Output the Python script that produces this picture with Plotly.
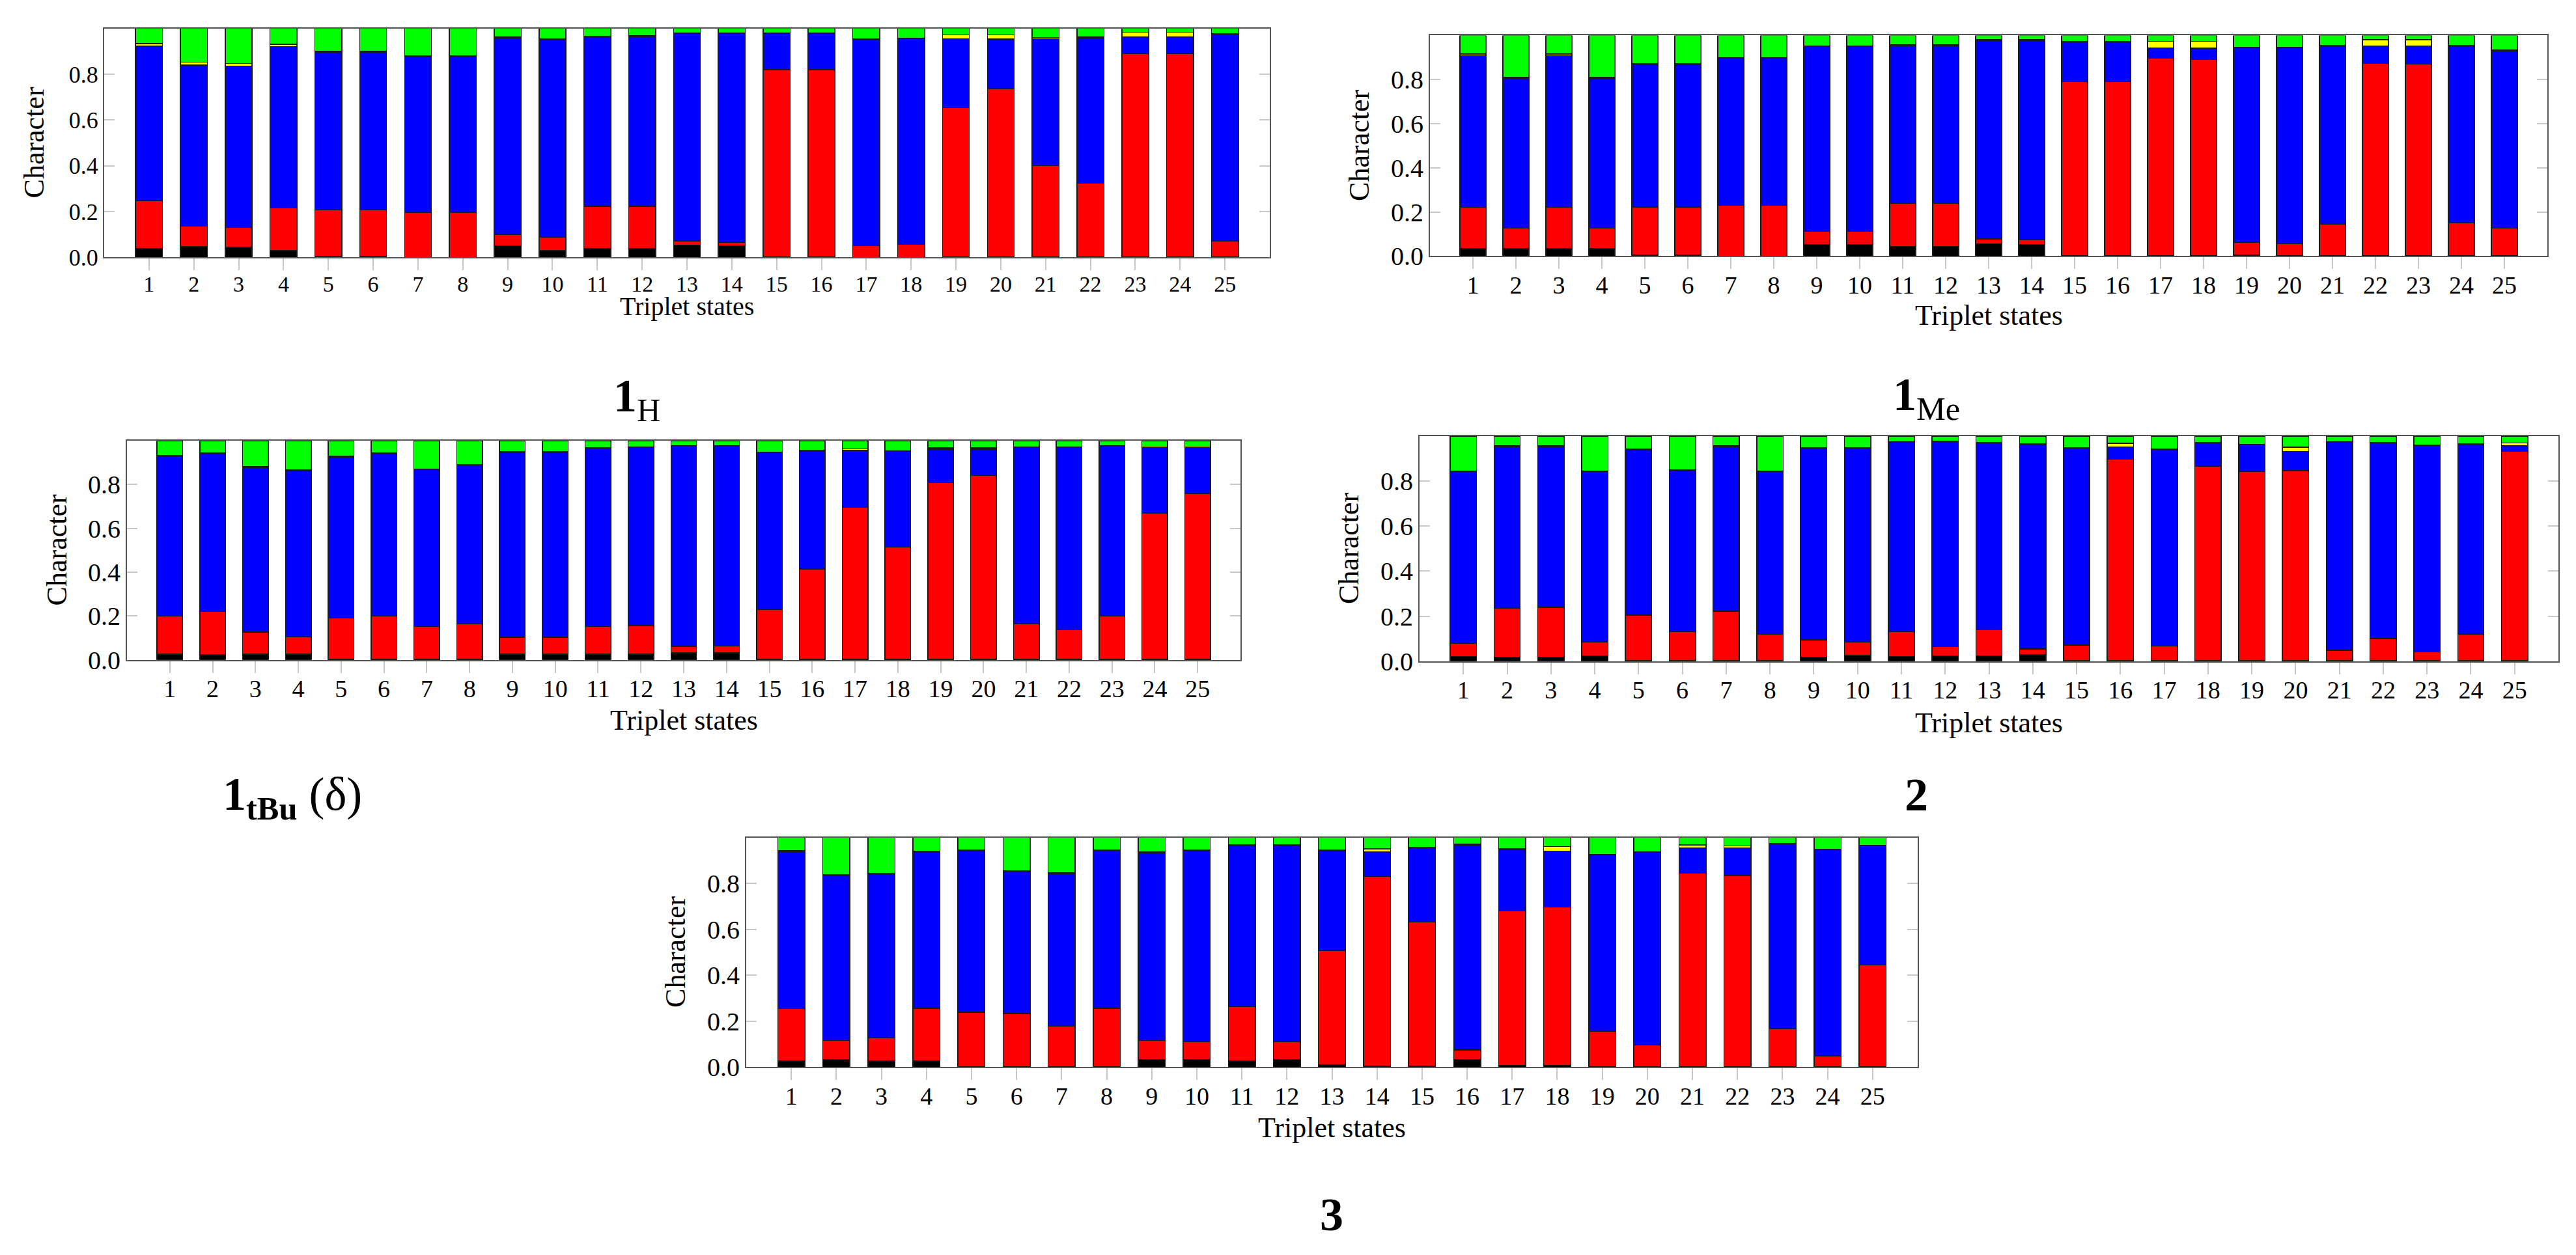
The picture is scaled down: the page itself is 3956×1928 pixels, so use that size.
import plotly.graph_objects as go

W, H = 3956, 1928

states = list(range(1, 26))
y_ticks = [0, 0.2, 0.4, 0.6, 0.8]
y_ticktext = ["0.0", "0.2", "0.4", "0.6", "0.8"]

# ---- 1H ----
black_1h = [.039, .047, .044, .030, .004, .004, .000, .000, .051, .029, .039, .040, .053,
            .051, .002, .002, .000, .000, .003, .002, .003, .002, .002, .002, .003]
red_1h = [.209, .089, .086, .185, .203, .203, .197, .197, .049, .058, .184, .183, .019,
          .016, .818, .818, .050, .056, .650, .734, .398, .322, .888, .888, .069]
blue_1h = [.674, .704, .706, .705, .689, .689, .681, .681, .858, .863, .737, .741, .906,
           .911, .158, .158, .903, .899, .302, .217, .554, .633, .072, .072, .902]
yellow_1h = [.012, .012, .010, .010, .003, .003, .002, .002, .004, .004, .004, .004, .002,
             .002, .002, .002, .002, .002, .017, .019, .005, .005, .021, .021, .002]
green_1h = [.066, .148, .154, .070, .101, .101, .120, .120, .038, .046, .036, .032, .020,
            .020, .020, .020, .045, .043, .028, .028, .040, .038, .017, .017, .024]

# ---- 1Me ----
black_1me = [.034, .034, .034, .034, .004, .004, .000, .000, .053, .053, .044, .044, .055,
             .053, .002, .002, .002, .002, .004, .002, .003, .002, .002, .002, .003]
red_1me = [.187, .092, .187, .092, .219, .219, .230, .230, .059, .059, .194, .194, .022,
           .020, .788, .788, .895, .889, .059, .053, .142, .871, .868, .150, .123]
blue_1me = [.687, .677, .687, .677, .646, .646, .668, .668, .837, .837, .715, .715, .901,
            .905, .181, .181, .047, .051, .881, .889, .806, .080, .083, .799, .804]
yellow_1me = [.007, .007, .007, .007, .003, .003, .002, .002, .004, .004, .004, .004, .002,
              .002, .002, .002, .029, .031, .002, .002, .003, .027, .027, .003, .003]
green_1me = [.085, .190, .085, .190, .128, .128, .100, .100, .047, .047, .043, .043, .020,
             .020, .027, .027, .027, .027, .054, .054, .046, .020, .020, .046, .067]

# ---- 1tBu (delta) ----
black_1tbu = [.027, .024, .027, .027, .002, .002, .002, .002, .027, .027, .027, .027, .032,
              .032, .003, .002, .002, .002, .002, .002, .003, .002, .003, .002, .002]
red_1tbu = [.173, .196, .100, .079, .189, .199, .150, .162, .076, .076, .125, .130, .030,
            .032, .227, .413, .693, .512, .807, .839, .163, .135, .198, .668, .757]
blue_1tbu = [.727, .721, .751, .757, .734, .740, .715, .724, .843, .843, .814, .811, .914,
             .912, .716, .538, .261, .437, .152, .120, .803, .832, .775, .299, .210]
yellow_1tbu = [.004, .004, .004, .004, .003, .003, .003, .003, .004, .004, .003, .003, .002,
               .002, .002, .004, .006, .003, .006, .006, .002, .002, .002, .006, .006]
green_1tbu = [.069, .055, .118, .133, .072, .056, .130, .109, .050, .050, .031, .029, .022,
              .022, .052, .043, .038, .046, .033, .033, .029, .029, .022, .025, .025]

# ---- 2 ----
black_2 = [.021, .019, .019, .024, .002, .003, .003, .002, .019, .026, .021, .024, .024,
           .029, .002, .002, .002, .002, .003, .002, .002, .002, .003, .003, .002]
red_2 = [.058, .217, .220, .062, .203, .129, .219, .117, .076, .060, .111, .040, .116,
         .025, .070, .895, .065, .864, .839, .845, .046, .098, .038, .118, .930]
blue_2 = [.765, .718, .715, .756, .735, .715, .732, .723, .852, .861, .841, .911, .829,
          .910, .875, .055, .874, .103, .119, .085, .925, .871, .918, .843, .024]
yellow_2 = [.002, .003, .003, .003, .002, .002, .002, .002, .003, .003, .002, .002, .002,
            .002, .002, .016, .002, .002, .002, .019, .002, .002, .002, .002, .014]
green_2 = [.154, .043, .043, .155, .058, .151, .044, .156, .050, .050, .025, .023, .029,
           .034, .051, .032, .057, .029, .037, .049, .025, .027, .039, .034, .030]

# ---- 3 ----
black_3 = [.026, .033, .026, .026, .002, .002, .002, .002, .033, .033, .026, .033, .010,
           .003, .003, .033, .008, .008, .002, .002, .002, .002, .002, .002, .002]
red_3 = [.228, .082, .101, .230, .237, .231, .178, .254, .083, .077, .238, .077, .498,
         .827, .629, .042, .672, .689, .155, .094, .842, .833, .166, .047, .443]
blue_3 = [.685, .719, .713, .681, .703, .620, .663, .688, .816, .831, .699, .855, .433,
          .107, .323, .892, .266, .244, .768, .839, .109, .120, .804, .897, .518]
yellow_3 = [.005, .004, .004, .004, .003, .003, .003, .003, .004, .004, .004, .003, .004,
            .014, .003, .003, .004, .019, .002, .002, .014, .008, .002, .002, .002]
green_3 = [.056, .162, .156, .059, .055, .144, .154, .053, .064, .055, .033, .032, .055,
           .049, .042, .030, .050, .040, .073, .063, .033, .037, .026, .052, .035]

panels = [
    ("<b>1</b><sub>H</sub>", [black_1h, red_1h, blue_1h, yellow_1h, green_1h]),
    ("<b>1</b><sub>Me</sub>", [black_1me, red_1me, blue_1me, yellow_1me, green_1me]),
    ("<b>1</b><sub><b>tBu</b></sub> (δ)", [black_1tbu, red_1tbu, blue_1tbu, yellow_1tbu, green_1tbu]),
    ("<b>2</b>", [black_2, red_2, blue_2, yellow_2, green_2]),
    ("<b>3</b>", [black_3, red_3, blue_3, yellow_3, green_3]),
]
seg_colors = ["#000000", "#ff0000", "#0000ff", "#ffff00", "#00ff00"]

# plot boxes in pixels: left, right, top, bottom
boxes = [(152, 1942, 36, 392), (2188, 3904, 47, 390), (187, 1897, 677, 1018),
         (2172, 3921, 670, 1020), (1138, 2937, 1294, 1651)]
# label centres (x px, y px)
label_pos = [(970, 612), (2950, 610), (441, 1232), (2935, 1228), (2037, 1880)]
tick_size = [34, 38, 38, 38, 38]
xtitle_gap = [76, 92, 94, 96, 94]

FONT = "Liberation Serif"


def px(x):
    return x / W


def py(y):
    return 1 - y / H


fig = go.Figure()
layout = dict(width=W, height=H, margin=dict(l=0, r=0, t=0, b=0), autosize=False,
              paper_bgcolor="white", plot_bgcolor="white", barmode="stack",
              showlegend=False, font=dict(family=FONT, color="black"))
annotations = []

for i, (label, segs) in enumerate(panels):
    n = "" if i == 0 else str(i + 1)
    left, right, top, bottom = boxes[i]
    for vals, c in zip(segs, seg_colors):
        fig.add_trace(go.Bar(x=states, y=vals, width=0.6, xaxis="x" + n, yaxis="y" + n,
                             marker=dict(color=c, line=dict(color="#1a1a1a", width=1.5))))
    layout["xaxis" + n] = dict(
        domain=[px(left), px(right)], anchor="y" + n, range=[0, 26],
        tickvals=states, ticktext=[str(s) for s in states],
        ticks="outside", ticklen=18, tickwidth=2, tickcolor="#c8c8c8",
        ticklabelstandoff=-8,
        showline=True, linecolor="#555", linewidth=2, mirror=True,
        showgrid=False, zeroline=False,
        tickfont=dict(family=FONT, size=tick_size[i], color="black"))
    layout["yaxis" + n] = dict(
        domain=[py(bottom), py(top)], anchor="x" + n, range=[0, 1],
        tickvals=y_ticks, ticktext=y_ticktext,
        ticks="inside", ticklen=16, tickwidth=2, tickcolor="#c8c8c8",
        showline=True, linecolor="#555", linewidth=2, mirror="ticks",
        showgrid=False, zeroline=False,
        tickfont=dict(family=FONT, size=tick_size[i] + 2, color="black"))
    annotations.append(dict(text="Character", x=px(left - 108), y=py((top + bottom) / 2),
                            xref="paper", yref="paper", textangle=-90, showarrow=False,
                            xanchor="center", yanchor="middle",
                            font=dict(family=FONT, size=44, color="black")))
    annotations.append(dict(text="Triplet states", x=px((left + right) / 2),
                            y=py(bottom + xtitle_gap[i]), xref="paper", yref="paper",
                            showarrow=False, xanchor="center", yanchor="middle",
                            font=dict(family=FONT, size=tick_size[i] + 6, color="black")))
    lx, ly = label_pos[i]
    annotations.append(dict(text=label, x=px(lx), y=py(ly), xref="paper", yref="paper",
                            showarrow=False, xanchor="center", yanchor="middle",
                            font=dict(family=FONT, size=72, color="black")))

layout["annotations"] = annotations
fig.update_layout(**layout)
fig.write_html("out.html")
